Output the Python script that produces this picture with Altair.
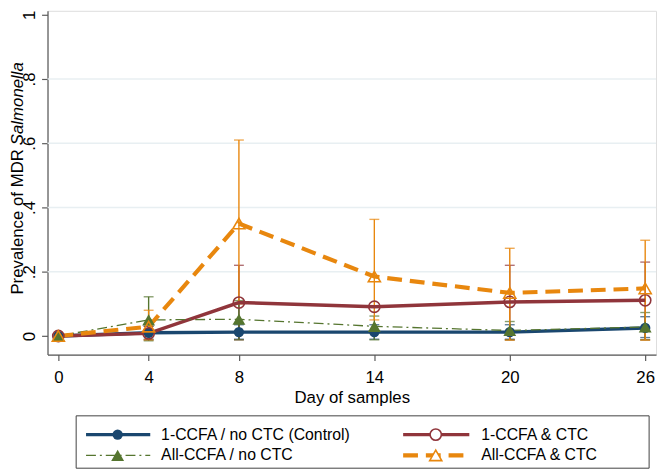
import altair as alt
import pandas as pd

# ---------------- data ----------------
days = [0, 4, 8, 14, 20, 26]
series_names = ["1-CCFA / no CTC (Control)", "1-CCFA & CTC",
                "All-CCFA / no CTC", "All-CCFA & CTC"]

control = [0.0, 0.010, 0.012, 0.012, 0.012, 0.025]
control_lo = [None, -0.010, -0.010, -0.010, -0.010, -0.005]
control_hi = [None, 0.030, 0.035, 0.035, 0.035, 0.060]

ccfa1_ctc = [0.0, 0.008, 0.104, 0.091, 0.106, 0.111]
ccfa1_ctc_lo = [None, -0.012, -0.012, None, -0.012, -0.012]
ccfa1_ctc_hi = [None, 0.030, 0.220, None, 0.220, 0.230]

all_noctc = [0.0, 0.050, 0.052, 0.030, 0.017, 0.028]
all_noctc_lo = [None, -0.015, -0.012, -0.012, -0.012, -0.012]
all_noctc_hi = [None, 0.122, 0.110, 0.062, 0.045, 0.073]

all_ctc = [0.0, 0.029, 0.350, 0.185, 0.134, 0.148]
all_ctc_lo = [None, -0.012, 0.100, 0.050, -0.013, -0.013]
all_ctc_hi = [None, 0.080, 0.610, 0.363, 0.273, 0.298]

y_ticks = [0, 0.2, 0.4, 0.6, 0.8, 1]
grid_vals = [0.2, 0.4, 0.6, 0.8]

# ---------------- styles ----------------
FONT = "Liberation Sans"
colors = ["#1a476f", "#90353b", "#55752f", "#e8870e"]
line_widths = [3.5, 3.5, 1.3, 4.2]
dashes = [None, None, [10, 4, 2, 4], [15, 8]]
shapes = ["circle", "circle", "triangle-up", "triangle-up"]
filled = [True, False, True, False]
sizes = [110, 130, 170, 150]

W, H = 616, 348

values = [control, ccfa1_ctc, all_noctc, all_ctc]
los = [control_lo, ccfa1_ctc_lo, all_noctc_lo, all_ctc_lo]
his = [control_hi, ccfa1_ctc_hi, all_noctc_hi, all_ctc_hi]

frames = []
for name, v, lo, hi in zip(series_names, values, los, his):
    frames.append(pd.DataFrame({"series": name, "day": days, "value": v,
                                "lo": lo, "hi": hi}))

xscale = alt.Scale(domain=[-0.48, 26.48], nice=False, zero=False)
yscale = alt.Scale(domain=[-0.058, 1.0123], nice=False, zero=False)

xaxis = alt.Axis(values=days, title="Day of samples", grid=False,
                 labelFont=FONT, titleFont=FONT, labelFontSize=17,
                 titleFontSize=17, titleFontWeight="normal",
                 labelColor="black", titleColor="black",
                 domainColor="#5a5a5a", tickColor="#5a5a5a",
                 tickSize=6, domainWidth=1.2, tickWidth=1.2,
                 labelPadding=9, titlePadding=4, labelFlush=False)
yaxis = alt.Axis(values=y_ticks, title=None, grid=False,
                 labelExpr="datum.value == 0 ? '0' : datum.value == 1 ? '1' : replace(format(datum.value, '.1f'), '0.', '.')",
                 labelAngle=270, labelAlign="center", labelBaseline="bottom",
                 labelFont=FONT, labelFontSize=17,
                 labelColor="black", domainColor="#5a5a5a",
                 tickColor="#5a5a5a", tickSize=6, domainWidth=1.2,
                 tickWidth=1.2, labelPadding=3, labelFlush=False)


def X(field):
    return alt.X(field, type="quantitative", scale=xscale, axis=xaxis)


def Y(field):
    return alt.Y(field, type="quantitative", scale=yscale, axis=yaxis)


layers = []

# grid lines
grid_df = pd.DataFrame({"g": grid_vals})
layers.append(alt.Chart(grid_df).mark_rule(color="#e8eff2", strokeWidth=1.5)
              .encode(y=Y("g")))

# error bars
for i, df in enumerate(frames):
    eb = df.dropna(subset=["lo", "hi"])
    base = alt.Chart(eb)
    layers.append(base.mark_rule(color=colors[i], strokeWidth=1.4)
                  .encode(x=X("day"), y=Y("lo"), y2="hi"))
    layers.append(base.mark_tick(color=colors[i], orient="horizontal",
                                 size=10, thickness=1.4)
                  .encode(x=X("day"), y=Y("lo")))
    layers.append(base.mark_tick(color=colors[i], orient="horizontal",
                                 size=10, thickness=1.4)
                  .encode(x=X("day"), y=Y("hi")))

# lines
for i, df in enumerate(frames):
    kw = dict(color=colors[i], strokeWidth=line_widths[i])
    if dashes[i]:
        kw["strokeDash"] = dashes[i]
    layers.append(alt.Chart(df).mark_line(**kw)
                  .encode(x=X("day"), y=Y("value")))

# markers
for i, df in enumerate(frames):
    if filled[i]:
        m = alt.Chart(df).mark_point(shape=shapes[i], filled=True,
                                     color=colors[i], size=sizes[i],
                                     opacity=1)
    else:
        m = alt.Chart(df).mark_point(shape=shapes[i], filled=False,
                                     color=colors[i], size=sizes[i],
                                     strokeWidth=1.6, opacity=1)
    layers.append(m.encode(x=X("day"), y=Y("value")))

# ---------------- legend (drawn manually) ----------------
one = pd.DataFrame({"k": [0]})
box = dict(x0=29, x1=609, y0=410, y1=463)
layers.append(alt.Chart(one).mark_rect(filled=False, stroke="#404040",
                                       strokeWidth=1)
              .encode(x=alt.value(box["x0"]), x2=alt.value(box["x1"]),
                      y=alt.value(box["y0"]), y2=alt.value(box["y1"])))

entry_pos = [(39, 104, 71, 115, 429), (360, 427, 393, 439, 429),
             (39, 104, 71, 115, 450), (360, 427, 393, 439, 450)]
for i, name in enumerate(series_names):
    lx0, lx1, mx, tx, ly = entry_pos[i]
    kw = dict(color=colors[i], strokeWidth=line_widths[i])
    if dashes[i]:
        kw["strokeDash"] = dashes[i]
    layers.append(alt.Chart(one).mark_rule(**kw)
                  .encode(x=alt.value(lx0), x2=alt.value(lx1),
                          y=alt.value(ly)))
    if filled[i]:
        m = alt.Chart(one).mark_point(shape=shapes[i], filled=True,
                                      color=colors[i], size=sizes[i],
                                      opacity=1)
    else:
        m = alt.Chart(one).mark_point(shape=shapes[i], filled=False,
                                      color=colors[i], size=sizes[i],
                                      strokeWidth=1.6, opacity=1,
                                      fill="white", fillOpacity=1)
    layers.append(m.encode(x=alt.value(mx), y=alt.value(ly)))
    layers.append(alt.Chart(one).mark_text(align="left", baseline="middle",
                                           font=FONT, fontSize=16,
                                           color="black")
                  .encode(x=alt.value(tx), y=alt.value(ly),
                          text=alt.value(name)))

# ---------------- y-axis title with italic genus ----------------
title_plain = "Prevalence of MDR "
title_italic = "Salmonella"
split_y = 140
title_x = -25
layers.append(alt.Chart(one).mark_text(angle=270, align="right",
                                       baseline="alphabetic", font=FONT,
                                       fontSize=17, color="black")
              .encode(x=alt.value(title_x), y=alt.value(split_y),
                      text=alt.value(title_plain)))
layers.append(alt.Chart(one).mark_text(angle=270, align="left",
                                       baseline="alphabetic", font=FONT,
                                       fontSize=17, fontStyle="italic",
                                       color="black")
              .encode(x=alt.value(title_x), y=alt.value(split_y - 4),
                      text=alt.value(title_italic)))

chart = alt.layer(*layers).properties(
    width=W, height=H,
    autosize=alt.AutoSizeParams(type="none"),
    padding={"left": 40, "top": 0, "right": 2, "bottom": 117},
).configure_view(stroke=None).configure(background="white")

chart.save("out.html", embed_options={"renderer": "svg", "actions": False})
